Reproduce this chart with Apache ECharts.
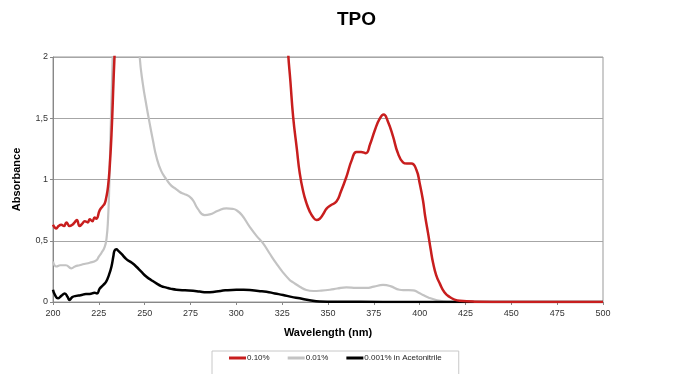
<!DOCTYPE html>
<html><head><meta charset="utf-8">
<script src="https://cdn.jsdelivr.net/npm/echarts@6/dist/echarts.min.js"></script>
<style>html,body{margin:0;padding:0;background:#fff}#c{width:675px;height:374px}</style>
</head><body><div id="c"></div>
<script>
const titleText = 'TPO';
const xName = 'Wavelength (nm)';
const yName = 'Absorbance';
const seriesNames = ['0.10%', '0.01%', '0.001% in Acetonitrile'];
const xTicks = [200, 225, 250, 275, 300, 325, 350, 375, 400, 425, 450, 475, 500];
const yTickLabels = {0: '0', 0.5: '0,5', 1: '1', 1.5: '1,5', 2: '2'};

const redWl = [200,201.8,203,204.5,206,207.3,209,210.5,211.8,213,214.5,216,217.3,219,220,221.5,222.7,223.6,225.5,227,228.2,229,230,231,232,233,234,235,236,
  326,327,328.2,329.5,331,333,334.6,336.5,338.2,340,342,343.7,345.5,347.5,349.1,351.5,354.6,357,360,363,365.5,368,370.6,373,375.5,378,380.4,382.5,385.5,388,390.9,393,395.5,398.2,400,401.8,403,404.6,406,407.3,409,411,413.5,416.4,419,421.9,430,450,500];
const redAbs = [0.63,0.60,0.62,0.63,0.62,0.65,0.62,0.63,0.65,0.67,0.62,0.64,0.66,0.65,0.675,0.66,0.69,0.68,0.75,0.78,0.805,0.85,0.94,1.12,1.4,1.8,2.2,2.8,3.5,
  3.5,2.5,2.05,1.8,1.51,1.25,1.05,0.9,0.81,0.74,0.69,0.67,0.68,0.72,0.76,0.79,0.82,0.9,1.02,1.16,1.225,1.225,1.215,1.29,1.40,1.49,1.53,1.48,1.35,1.22,1.14,1.13,1.13,1.08,0.97,0.83,0.7,0.56,0.43,0.32,0.22,0.15,0.08,0.04,0.02,0.01,0.003,0,0];

const grayWl = [200,201.8,204,207,210,212,214.5,217,220,223.6,225,226.4,228.2,229.2,230,230.7,231.3,232,232.5,233.3,234.5,243,245.5,247.3,249,251,252.7,254.5,256.4,259,261.9,264.5,267.3,269,270.9,272.7,274.5,276.4,279,282.7,285.5,290,294.6,298,300,303,307.3,311,314.5,318,321.8,325,329.1,331,334.6,338.2,342,345.5,351,355,360,365.5,371,375,380,384,389,392,396.4,399,401.8,405,409,413,420,430,500];
const grayAbs = [0.33,0.29,0.30,0.30,0.275,0.29,0.30,0.31,0.32,0.34,0.37,0.40,0.45,0.52,0.67,0.95,1.32,1.7,1.97,2.5,3.2,3.2,2.5,2.0,1.78,1.6,1.46,1.32,1.185,1.07,1.0,0.95,0.92,0.90,0.885,0.875,0.86,0.83,0.76,0.71,0.715,0.745,0.764,0.76,0.75,0.71,0.614,0.54,0.48,0.40,0.315,0.25,0.18,0.16,0.125,0.098,0.09,0.092,0.10,0.11,0.12,0.115,0.115,0.125,0.139,0.13,0.10,0.097,0.095,0.08,0.057,0.035,0.016,0.006,0.002,0,0];

const blackWl = [200,201,202.7,204.5,206.4,208,209,210.5,212.7,215,218,220,222.7,224,225.5,227.5,229,230.5,231.9,233,233.6,234.6,235.5,237.5,240,243,245.5,248,251,253.5,256.4,259,261.9,264.5,267.3,272,276.4,280,283.7,289,294,300,304,307.3,312,316.4,321,325.5,330,334.6,340,345.5,355,380,500];
const blackAbs = [0.10,0.06,0.03,0.05,0.07,0.04,0.016,0.04,0.05,0.055,0.065,0.065,0.075,0.07,0.11,0.14,0.166,0.22,0.29,0.38,0.42,0.43,0.42,0.39,0.35,0.32,0.288,0.25,0.206,0.18,0.152,0.13,0.117,0.107,0.10,0.095,0.092,0.085,0.079,0.085,0.095,0.10,0.10,0.098,0.09,0.084,0.07,0.057,0.042,0.03,0.015,0.005,0.002,0.001,0];

const colors = ['#c81e1e', '#c3c3c3', '#000000'];
const widths = [2.5, 2.2, 2.5];
const zip = (a, b) => a.map((v, i) => [v, b[i]]);
const datasets = [zip(redWl, redAbs), zip(grayWl, grayAbs), zip(blackWl, blackAbs)];
const zs = [4, 2, 3];

const chart = echarts.init(document.getElementById('c'), null, {renderer: 'canvas'});
chart.setOption({
  animation: false,
  textStyle: {fontFamily: 'Liberation Sans, Arial, sans-serif'},
  title: {text: titleText, left: 332, top: 5, textStyle: {fontSize: 19, fontWeight: 'bold', color: '#000'}},
  grid: {left: 53, right: 72, top: 57, bottom: 72, show: true, borderColor: '#999', borderWidth: 1},
  legend: {
    data: seriesNames, left: 212, top: 351, icon: 'rect', itemWidth: 17, itemHeight: 3, itemGap: 18,
    padding: [3, 17, 30, 17], borderColor: '#c8c8c8', borderWidth: 1,
    textStyle: {fontSize: 8, color: '#222', padding: [0, 0, 0, -4]}
  },
  xAxis: {
    type: 'value', min: xTicks[0], max: xTicks[xTicks.length - 1], interval: 25,
    name: xName, nameLocation: 'middle', nameGap: 25,
    nameTextStyle: {fontSize: 11, fontWeight: 'bold', color: '#000'},
    axisLine: {lineStyle: {color: '#888'}}, axisTick: {show: true, length: 3, lineStyle: {color: '#888'}},
    axisLabel: {fontSize: 9, color: '#333', margin: 7}, splitLine: {show: false}
  },
  yAxis: {
    type: 'value', min: 0, max: 2, interval: 0.5,
    name: yName, nameLocation: 'middle', nameGap: 31,
    nameTextStyle: {fontSize: 11, fontWeight: 'bold', color: '#000'},
    axisLine: {show: true, lineStyle: {color: '#888'}}, axisTick: {show: true, length: 3, lineStyle: {color: '#888'}},
    axisLabel: {fontSize: 9, color: '#333', margin: 5, formatter: v => yTickLabels[v] !== undefined ? yTickLabels[v] : String(v).replace('.', ',')},
    splitLine: {lineStyle: {color: '#a6a6a6', width: 1}}
  },
  series: datasets.map((d, i) => ({
    name: seriesNames[i], type: 'line', data: d, showSymbol: false, smooth: 0.5, clip: true, z: zs[i],
    lineStyle: {color: colors[i], width: widths[i]}, itemStyle: {color: colors[i]}
  }))
});
</script></body></html>
